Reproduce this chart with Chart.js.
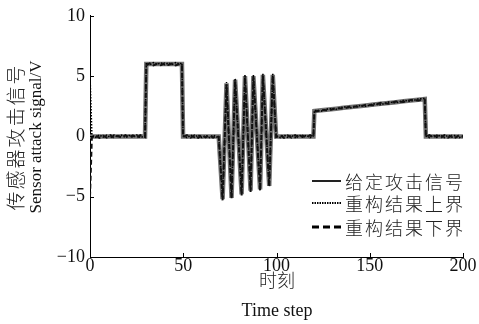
<!DOCTYPE html>
<html>
<head>
<meta charset="utf-8">
<script src="https://cdn.jsdelivr.net/npm/chart.js@4.4.0/dist/chart.umd.min.js"></script>
<style>
  body { margin: 0; background: #fff; }
  #chart { display: block; }
</style>
</head>
<body>
<canvas id="chart" width="479" height="324"></canvas>
<script>
// time steps (shared by all three series)
const steps = [
  0, 1, 3, 5, 7, 9, 11, 13, 15, 17, 19, 21, 23, 25, 27, 29.5,
  30.2, 32, 34, 36, 38, 40, 42, 44, 46, 48, 49.3,
  49.9, 52, 54, 56, 58, 60, 62, 64, 66, 68, 69,
  71.1, 73.2, 75.9, 77.8, 81.3, 83.1, 86.1, 87.6, 91.2, 92.7, 96.1, 98.0,
  99.8, 102, 104, 106, 108, 110, 112, 114, 116, 118, 119.8,
  120.3, 124, 128, 132, 136, 140, 144, 148, 152, 156, 160, 164, 168, 172, 176, 179.5,
  180.1, 182, 184, 186, 188, 190, 192, 194, 196, 198, 200
];

// 给定攻击信号
const attackSignal = [
  0, 0, 0, 0, 0, 0, 0, 0, 0, 0, 0, 0, 0, 0, 0, 0,
  6, 6, 6, 6, 6, 6, 6, 6, 6, 6, 6,
  0, 0, 0, 0, 0, 0, 0, 0, 0, 0, 0,
  -5.2, 4.4, -5.1, 4.7, -4.8, 5.0, -4.5, 5.0, -4.4, 5.1, -4.1, 5.1,
  0, 0, 0, 0, 0, 0, 0, 0, 0, 0, 0,
  2.1, 2.17, 2.23, 2.30, 2.37, 2.44, 2.50, 2.57, 2.64, 2.70, 2.77, 2.84, 2.91, 2.97, 3.04, 3.1,
  0, 0, 0, 0, 0, 0, 0, 0, 0, 0, 0
];

// 重构结果上界
const upperBound = [
  5.0, 0.1, -0.08, 0.12, -0.06, 0.1, -0.1, 0.12, -0.05, 0.1, -0.1, 0.08, -0.08, 0.12, -0.1, 0.05,
  6.1, 5.95, 6.12, 5.98, 6.1, 5.95, 6.08, 5.97, 6.12, 5.98, 6.1,
  0.05, -0.1, 0.1, -0.08, 0.12, -0.1, 0.08, -0.1, 0.1, -0.05, 0.05,
  -5.1, 4.5, -5.0, 4.8, -4.7, 5.1, -4.4, 5.1, -4.3, 5.2, -4.0, 5.2,
  0.05, -0.1, 0.12, -0.08, 0.1, -0.1, 0.12, -0.06, 0.1, -0.1, 0.05,
  2.15, 2.1, 2.3, 2.25, 2.45, 2.38, 2.55, 2.5, 2.7, 2.62, 2.85, 2.78, 2.98, 2.92, 3.1, 3.15,
  0.05, -0.1, 0.1, -0.08, 0.12, -0.1, 0.1, -0.06, 0.1, -0.1, 0.05
];

// 重构结果下界
const lowerBound = [
  -5.0, -0.1, 0.08, -0.12, 0.06, -0.1, 0.1, -0.12, 0.05, -0.1, 0.1, -0.08, 0.08, -0.12, 0.1, -0.05,
  5.9, 6.05, 5.88, 6.02, 5.9, 6.05, 5.92, 6.03, 5.88, 6.02, 5.9,
  -0.05, 0.1, -0.1, 0.08, -0.12, 0.1, -0.08, 0.1, -0.1, 0.05, -0.05,
  -5.3, 4.3, -5.2, 4.6, -4.9, 4.9, -4.6, 4.9, -4.5, 5.0, -4.2, 5.0,
  -0.05, 0.1, -0.12, 0.08, -0.1, 0.1, -0.12, 0.06, -0.1, 0.1, -0.05,
  2.05, 2.2, 2.15, 2.35, 2.3, 2.5, 2.45, 2.62, 2.58, 2.78, 2.7, 2.9, 2.85, 3.02, 2.98, 3.05,
  -0.05, 0.1, -0.1, 0.08, -0.12, 0.1, -0.1, 0.06, -0.1, 0.1, -0.05
];

const seriesLabels = ['给定攻击信号', '重构结果上界', '重构结果下界'];

const serif = '"Liberation Serif", "Times New Roman", serif';
const cjk = '"Noto Sans CJK SC", sans-serif';

function toPoints(ys) {
  return steps.map((x, i) => ({ x: x, y: ys[i] }));
}

// 刻度线朝内 + 坐标轴标题 + 图例
const decorPlugin = {
  id: 'decor',
  afterDraw(chart) {
    const ctx = chart.ctx;
    const xs = chart.scales.x;
    const ys = chart.scales.y;
    const area = chart.chartArea;
    ctx.save();
    ctx.strokeStyle = '#000';
    ctx.lineWidth = 1;
    ctx.beginPath();
    ys.ticks.forEach(t => {
      const y = Math.round(ys.getPixelForValue(t.value)) + 0.5;
      ctx.moveTo(area.left, y);
      ctx.lineTo(area.left + 4, y);
    });
    xs.ticks.forEach(t => {
      const x = Math.round(xs.getPixelForValue(t.value)) + 0.5;
      ctx.moveTo(x, area.bottom);
      ctx.lineTo(x, area.bottom - 4);
    });
    ctx.stroke();

    // axis titles
    ctx.fillStyle = '#222';
    ctx.textAlign = 'center';
    ctx.textBaseline = 'middle';
    ctx.font = '300 18px ' + cjk;
    ctx.fillText('时刻', 277, 280);
    ctx.font = '18px ' + serif;
    ctx.fillStyle = '#111';
    ctx.fillText('Time step', 277, 311);

    ctx.save();
    ctx.translate(16, 137);
    ctx.rotate(-Math.PI / 2);
    ctx.fillStyle = '#222';
    ctx.font = '300 19px ' + cjk;
    ctx.letterSpacing = '2px';
    ctx.fillText('传感器攻击信号', 0, 0);
    ctx.restore();
    ctx.save();
    ctx.translate(37, 137);
    ctx.rotate(-Math.PI / 2);
    ctx.fillStyle = '#111';
    ctx.font = '17px ' + serif;
    ctx.fillText('Sensor attack signal/V', 0, 0);
    ctx.restore();

    // legend
    const rows = [181, 203, 227];
    const legendStyles = [
      { color: '#222', width: 2, dash: [] },
      { color: '#000', width: 2, dash: [1.5, 1] },
      { color: '#000', width: 3, dash: [7, 4] }
    ];
    ctx.textAlign = 'left';
    ctx.font = '300 18px ' + cjk;
    rows.forEach((y, i) => {
      const s = legendStyles[i];
      ctx.beginPath();
      ctx.setLineDash(s.dash);
      ctx.lineWidth = s.width;
      ctx.strokeStyle = s.color;
      ctx.moveTo(312, y);
      ctx.lineTo(341, y);
      ctx.stroke();
      ctx.setLineDash([]);
      ctx.fillStyle = '#222';
      ctx.letterSpacing = '2px';
      ctx.fillText(seriesLabels[i], 345, y + 1);
    });
    ctx.restore();
  }
};

new Chart(document.getElementById('chart'), {
  type: 'line',
  data: {
    datasets: [
      {
        label: seriesLabels[0],
        data: toPoints(attackSignal),
        borderColor: '#727272',
        borderWidth: 4.5,
        pointRadius: 0,
        tension: 0,
        order: 3
      },
      {
        label: seriesLabels[1],
        data: toPoints(upperBound),
        borderColor: '#000',
        borderWidth: 1.6,
        borderDash: [1.5, 1.5],
        pointRadius: 0,
        tension: 0,
        order: 2
      },
      {
        label: seriesLabels[2],
        data: toPoints(lowerBound),
        borderColor: '#111',
        borderWidth: 2,
        borderDash: [5, 3],
        pointRadius: 0,
        tension: 0,
        order: 1
      }
    ]
  },
  options: {
    responsive: false,
    animation: false,
    layout: { padding: { left: 0, right: 16, top: 15, bottom: 0 } },
    plugins: {
      legend: { display: false },
      tooltip: { enabled: false }
    },
    scales: {
      x: {
        type: 'linear',
        min: 0,
        max: 200,
        grid: { display: false, drawTicks: false },
        border: { display: true, color: '#000', width: 1 },
        ticks: {
          stepSize: 50,
          padding: 0,
          maxRotation: 0,
          color: '#111',
          font: { family: serif, size: 18, lineHeight: 1 }
        },
        afterFit(scale) { scale.height = 67; }
      },
      y: {
        min: -10,
        max: 10,
        grid: { display: false, drawTicks: false },
        border: { display: true, color: '#000', width: 1 },
        ticks: {
          stepSize: 5,
          padding: 5,
          color: '#111',
          font: { family: serif, size: 18 },
          callback: v => (v < 0 ? '\u2212' + Math.abs(v) : String(v))
        },
        afterFit(scale) { scale.width = 90; }
      }
    }
  },
  plugins: [decorPlugin]
});
</script>
</body>
</html>
